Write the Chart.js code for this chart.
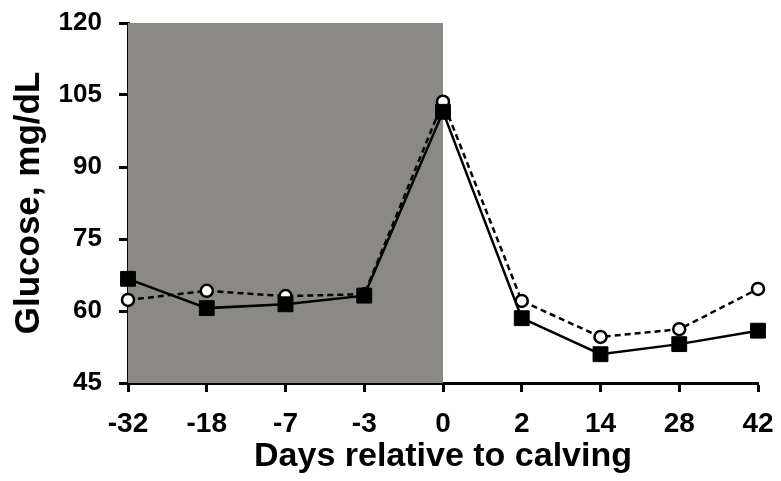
<!DOCTYPE html>
<html>
<head>
<meta charset="utf-8">
<script src="https://cdn.jsdelivr.net/npm/chart.js@4"></script>
<style>
  html, body { margin: 0; padding: 0; background: #fff; }
  #wrap { width: 781px; height: 481px; }
</style>
</head>
<body>
<div id="wrap"><canvas id="glucoseChart" width="781" height="481"></canvas></div>
<script>
// days relative to calving (evenly spaced categories)
const days = ["-32", "-18", "-7", "-3", "0", "2", "14", "28", "42"];
// glucose, mg/dL
const glucoseSquares = [66.7, 60.6, 61.4, 63.2, 101.5, 58.5, 51.0, 53.1, 55.9];
const glucoseCircles = [62.3, 64.2, 63.1, 63.5, 103.6, 62.1, 54.6, 56.2, 64.6];
const yTicks = [45, 60, 75, 90, 105, 120];
// prepartum shaded period
const shadeFrom = "-32";
const shadeTo = "0";

const FONT = "'Liberation Sans', Arial, sans-serif";

// grey box behind the lines for the prepartum days
const shadePlugin = {
  id: "shade",
  beforeDatasetsDraw(chart) {
    const { ctx, scales } = chart;
    const x0 = scales.x.getPixelForValue(days.indexOf(shadeFrom));
    const x1 = scales.x.getPixelForValue(days.indexOf(shadeTo));
    const y0 = scales.y.getPixelForValue(yTicks[yTicks.length - 1]);
    const y1 = scales.y.getPixelForValue(yTicks[0]);
    ctx.save();
    ctx.fillStyle = "#8a8985";
    ctx.fillRect(x0, y0, x1 - x0, y1 - y0);
    ctx.restore();
  },
};

const ctx = document.getElementById("glucoseChart").getContext("2d");

new Chart(ctx, {
  type: "line",
  data: {
    labels: days,
    datasets: [
      {
        label: "squares",
        data: glucoseSquares,
        borderColor: "#000",
        borderWidth: 2.5,
        pointStyle: "rect",
        pointRadius: 10.5,
        pointBackgroundColor: "#000",
        pointBorderColor: "#000",
        pointBorderWidth: 1,
        fill: false,
        tension: 0,
      },
      {
        label: "circles",
        data: glucoseCircles,
        borderColor: "#000",
        borderWidth: 2.5,
        borderDash: [6, 4],
        pointStyle: "circle",
        pointRadius: 6,
        pointBackgroundColor: "#fff",
        pointBorderColor: "#000",
        pointBorderWidth: 2.5,
        fill: false,
        tension: 0,
      },
    ],
  },
  options: {
    responsive: false,
    animation: false,
    layout: { padding: { top: 23, right: 23, left: 8, bottom: 4 } },
    plugins: {
      legend: { display: false },
      tooltip: { enabled: false },
    },
    scales: {
      x: {
        type: "category",
        offset: false,
        grid: {
          display: true,
          drawOnChartArea: false,
          drawTicks: true,
          tickLength: 9,
          tickWidth: 3,
          tickColor: "#000",
        },
        border: { display: true, color: "#000", width: 3 },
        ticks: {
          color: "#000",
          font: { family: FONT, size: 28, weight: "bold" },
          padding: 15,
          maxRotation: 0,
          autoSkip: false,
        },
        title: {
          display: true,
          text: "Days relative to calving",
          color: "#000",
          font: { family: FONT, size: 34, weight: "bold" },
          padding: { top: 0, bottom: 0 },
        },
        afterFit(scale) {
          // labels may spill into the page margin
          scale.height = 94;
          scale.paddingLeft = 0;
          scale.paddingRight = 0;
        },
      },
      y: {
        min: 45,
        max: 120,
        afterBuildTicks(scale) {
          scale.ticks = yTicks.map((v) => ({ value: v }));
        },
        grid: {
          display: true,
          drawOnChartArea: false,
          drawTicks: true,
          tickLength: 9,
          tickWidth: 3,
          tickColor: "#000",
        },
        border: { display: true, color: "#000", width: 3 },
        ticks: {
          color: "#000",
          font: { family: FONT, size: 26, weight: "bold" },
          padding: 17,
        },
        title: {
          display: true,
          text: "Glucose, mg/dL",
          color: "#000",
          font: { family: FONT, size: 35, weight: "bold" },
          padding: { top: 0, bottom: 0 },
        },
        afterFit(scale) {
          scale.width = 120;
          scale.paddingTop = 0;
          scale.paddingBottom = 0;
        },
      },
    },
  },
  plugins: [shadePlugin],
});
</script>
</body>
</html>
